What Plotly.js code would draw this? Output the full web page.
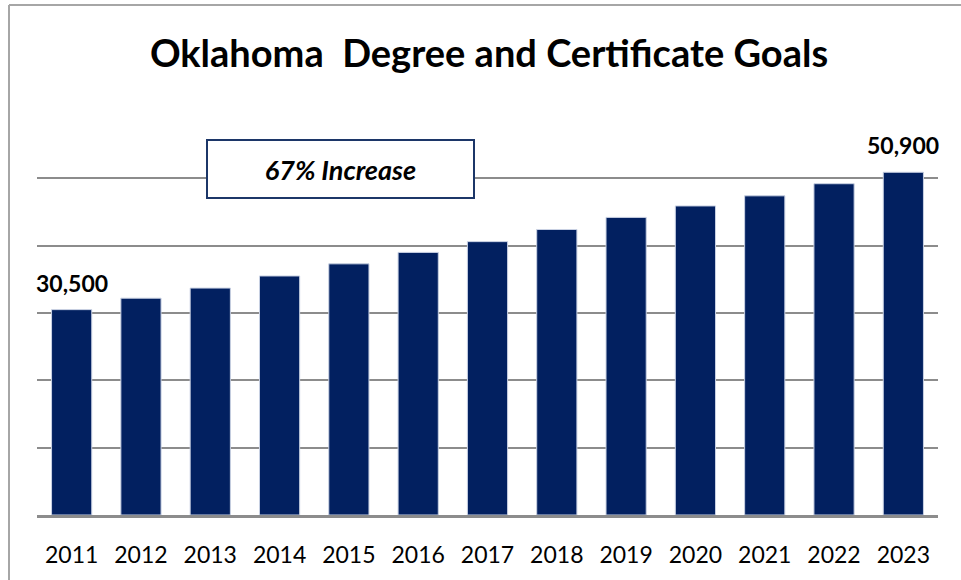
<!DOCTYPE html>
<html>
<head>
<meta charset="utf-8">
<script src="https://cdn.plot.ly/plotly-3.0.1.min.js"></script>
<style>
  html, body { margin: 0; padding: 0; background: #ffffff; }
  #chart { width: 961px; height: 580px; }
</style>
</head>
<body>
<div id="chart"></div>
<script>
// ---- data ----
const years = ['2011','2012','2013','2014','2015','2016','2017','2018','2019','2020','2021','2022','2023'];
const goals = [30500, 32200, 33700, 35500, 37300, 39000, 40600, 42400, 44200, 45900, 47400, 49200, 50900];
const labelledIdx = [0, 12];
const titleText = 'Oklahoma&nbsp; Degree and Certificate Goals';
const calloutText = '67% Increase';

const W = 961, H = 580;
const margin = { l: 37, r: 23, t: 111, b: 65 };
const plotW = W - margin.l - margin.r;
const plotH = H - margin.t - margin.b;

const trace = {
  type: 'bar',
  x: years,
  y: goals,
  marker: { color: '#022060', line: { color: '#c9d1e3', width: 1 } },
  hoverinfo: 'x+y'
};

const valueAnns = labelledIdx.map(i => ({
  x: i, y: goals[i], xref: 'x', yref: 'y',
  text: '<b>' + goals[i].toLocaleString('en-US') + '</b>',
  showarrow: false, xanchor: 'center', yanchor: 'bottom', yshift: 11,
  font: { family: 'Lato, sans-serif', size: 23, color: '#000000' }
}));

const callout = {
  xref: 'paper', yref: 'paper',
  x: (340.5 - margin.l) / plotW, y: (H - margin.b - 169) / plotH,
  xanchor: 'center', yanchor: 'middle',
  text: '<b><i>' + calloutText + '</i></b>',
  showarrow: false,
  width: 265, height: 56,
  bgcolor: '#ffffff', bordercolor: '#1c3668', borderwidth: 2, borderpad: 0,
  font: { family: 'Lato, sans-serif', size: 27, color: '#000000' }
};

const layout = {
  width: W, height: H,
  margin: margin,
  paper_bgcolor: '#ffffff', plot_bgcolor: '#ffffff',
  showlegend: false,
  title: {
    text: '<b>' + titleText + '</b>',
    x: 489 / W, xanchor: 'center',
    y: 1 - 54 / H, yanchor: 'middle',
    font: { family: 'Lato, sans-serif', size: 38, color: '#000000' }
  },
  bargap: 0.42,
  xaxis: {
    type: 'category',
    categoryorder: 'array', categoryarray: years,
    range: [-0.5, years.length - 0.5],
    showgrid: false,
    showline: true, linecolor: '#8c8c8c', linewidth: 3,
    ticks: '', ticklabelstandoff: 17,
    tickfont: { family: 'Lato, sans-serif', size: 23, color: '#000000' },
    fixedrange: true
  },
  yaxis: {
    range: [0, 60000], dtick: 10000, tick0: 0,
    showticklabels: false, ticks: '',
    showgrid: true, gridcolor: '#8c8c8c', gridwidth: 2,
    zeroline: false, showline: false,
    fixedrange: true
  },
  annotations: valueAnns.concat([callout]),
  shapes: [
    { type: 'line', xref: 'paper', yref: 'paper',
      x0: (9 - margin.l) / plotW, x1: (9 - margin.l) / plotW,
      y0: -0.3, y1: (H - margin.b - 5) / plotH,
      line: { color: '#a6a6a6', width: 2 } },
    { type: 'line', xref: 'paper', yref: 'paper',
      x0: (9 - margin.l) / plotW, x1: 1.2,
      y0: (H - margin.b - 5) / plotH, y1: (H - margin.b - 5) / plotH,
      line: { color: '#a6a6a6', width: 2 } }
  ]
};

Plotly.newPlot('chart', [trace], layout, { displayModeBar: false, staticPlot: true });
</script>
</body>
</html>
